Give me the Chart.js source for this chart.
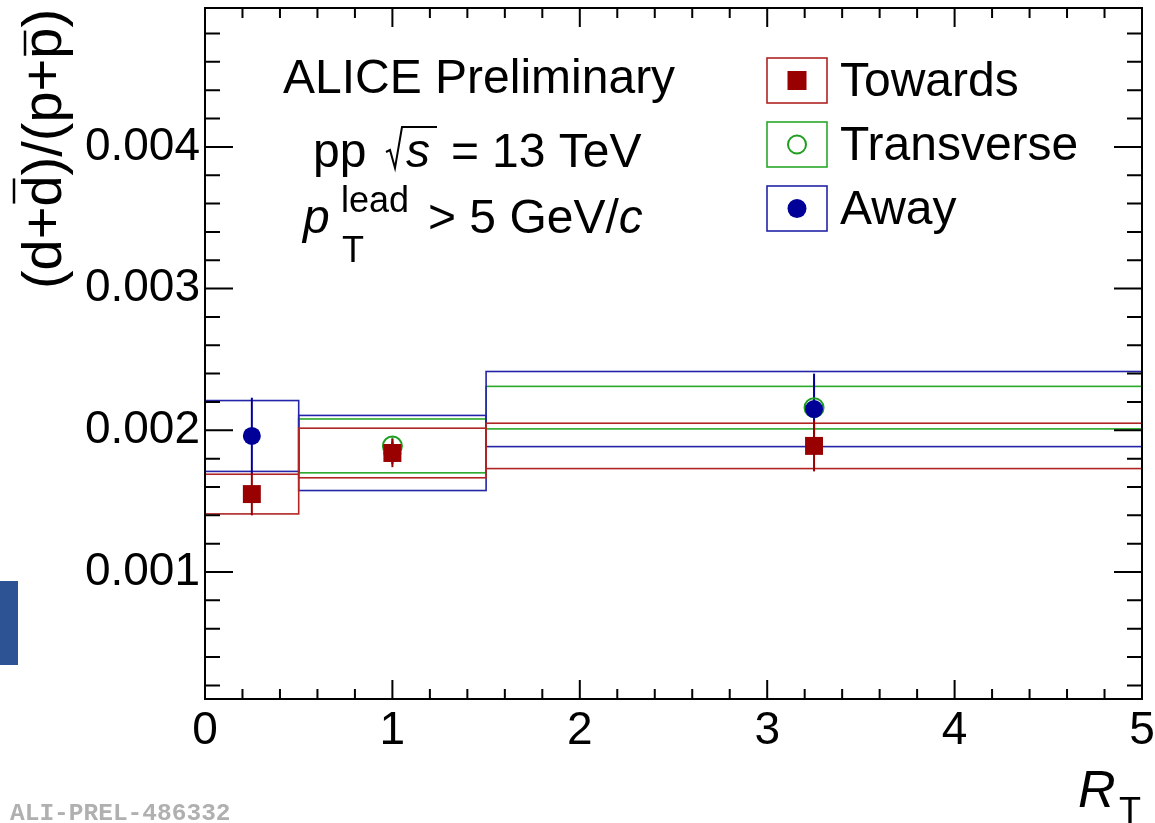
<!doctype html>
<html lang="en">
<head>
<meta charset="utf-8">
<title>(d+dbar)/(p+pbar) vs RT</title>
<style>
  body { margin: 0; background: #fff; }
</style>
</head>
<body>
<canvas id="ratioChart" width="1155" height="823"></canvas>
<script src="https://cdn.jsdelivr.net/npm/chart.js"></script>
<script>
// R_T bins
const binLow    = [0, 0.5, 1.5];
const binHigh   = [0.5, 1.5, 5];
const binCenter = [0.25, 1.0, 3.25];

// (d+dbar)/(p+pbar) per region, stat and sys (half-height of box) errors
const towards        = [0.00155, 0.00184, 0.00189];
const towardsStat    = [0.00015, 0.00010, 0.00018];
const towardsSys     = [0.00014, 0.000175, 0.00016];

const transverse     = [null, 0.00189, 0.00216];
const transverseStat = [null, 0.00006, 0.00019];
const transverseSys  = [null, 0.00019, 0.00015];

const away           = [0.00196, 0.00184, 0.00215];
const awayStat       = [0.00027, 0.00008, 0.00025];
const awaySys        = [0.00025, 0.000265, 0.000265];

const xTicks = [0, 1, 2, 3, 4, 5];
const yTicks = [0.001, 0.002, 0.003, 0.004];

const FONT = '"Liberation Sans", Arial, Helvetica, sans-serif';
const RED = '#990000', GREEN = '#1f9f1f', BLUE = '#000099';

// drawn bottom to top
const series = [
  { name: 'Transverse', y: transverse, stat: transverseStat, sys: transverseSys, color: GREEN, box: '#2aa82a' },
  { name: 'Away',       y: away,       stat: awayStat,       sys: awaySys,       color: BLUE,  box: '#2424a8' },
  { name: 'Towards',    y: towards,    stat: towardsStat,    sys: towardsSys,    color: RED,   box: '#b02424' }
];

function points(vals) {
  const out = [];
  vals.forEach((v, i) => { if (v !== null) out.push({ x: binCenter[i], y: v }); });
  return out;
}

const errorBoxes = {
  id: 'errorBoxes',
  beforeDatasetsDraw(chart) {
    const { ctx, scales: { x, y } } = chart;
    ctx.save();
    series.forEach(s => {
      s.y.forEach((v, i) => {
        if (v === null) return;
        const x0 = x.getPixelForValue(binLow[i]);
        const x1 = x.getPixelForValue(binHigh[i]);
        const yTop = y.getPixelForValue(v + s.sys[i]);
        const yBot = y.getPixelForValue(v - s.sys[i]);
        ctx.strokeStyle = s.box;
        ctx.lineWidth = 1.6;
        ctx.strokeRect(x0, yTop, x1 - x0, yBot - yTop);
        // statistical error bar
        const xc = x.getPixelForValue(binCenter[i]);
        ctx.strokeStyle = s.color;
        ctx.lineWidth = 2;
        ctx.beginPath();
        ctx.moveTo(xc, y.getPixelForValue(v + s.stat[i]));
        ctx.lineTo(xc, y.getPixelForValue(v - s.stat[i]));
        ctx.stroke();
      });
    });
    ctx.restore();
  },
  afterDatasetsDraw(chart) {
    const { ctx, chartArea: a, scales: { x, y } } = chart;
    ctx.save();
    ctx.strokeStyle = '#000';
    ctx.lineWidth = 2;
    ctx.strokeRect(a.left, a.top, a.right - a.left, a.bottom - a.top);
    ctx.beginPath();
    // x ticks, bottom and top, pointing inward
    for (let k = 0; k <= 25; k++) {
      const px = x.getPixelForValue(k * 0.2);
      const len = k % 5 === 0 ? 19 : 10;
      ctx.moveTo(px, a.bottom); ctx.lineTo(px, a.bottom - len);
      ctx.moveTo(px, a.top);    ctx.lineTo(px, a.top + len);
    }
    // y ticks, left and right
    for (let k = 1; k <= 24; k++) {
      const py = y.getPixelForValue(k * 0.0002);
      const len = k % 5 === 0 ? 28 : 15;
      ctx.moveTo(a.left, py);  ctx.lineTo(a.left + len, py);
      ctx.moveTo(a.right, py); ctx.lineTo(a.right - len, py);
    }
    ctx.stroke();
    ctx.restore();
  },
  afterDraw(chart) {
    const ctx = chart.ctx;
    ctx.save();
    ctx.fillStyle = '#000';
    ctx.textBaseline = 'alphabetic';
    ctx.textAlign = 'left';

    // header text
    ctx.font = '48px ' + FONT;
    ctx.fillText('ALICE Preliminary', 283, 93);

    ctx.fillText('pp', 313, 167);
    ctx.strokeStyle = '#000';
    ctx.lineWidth = 2;
    ctx.beginPath();
    ctx.moveTo(386, 152); ctx.lineTo(390, 150);
    ctx.lineTo(395, 168); ctx.lineTo(402, 127); ctx.lineTo(437, 127);
    ctx.stroke();
    ctx.font = 'italic 48px ' + FONT;
    ctx.fillText('s', 406, 167);
    ctx.font = '48px ' + FONT;
    ctx.fillText('=', 451, 167);
    ctx.fillText('13 TeV', 492, 167);

    ctx.font = 'italic 48px ' + FONT;
    ctx.fillText('p', 303, 233);
    ctx.font = '36px ' + FONT;
    ctx.fillText('lead', 341, 212);
    ctx.fillText('T', 342, 262);
    ctx.font = '48px ' + FONT;
    ctx.fillText('> 5 GeV/', 428, 233);
    const w = ctx.measureText('> 5 GeV/').width;
    ctx.font = 'italic 48px ' + FONT;
    ctx.fillText('c', 428 + w, 233);

    // legend
    const leg = [
      { name: 'Towards',    color: RED,   box: '#b02424', top: 58 },
      { name: 'Transverse', color: GREEN, box: '#2aa82a', top: 122 },
      { name: 'Away',       color: BLUE,  box: '#2424a8', top: 186 }
    ];
    leg.forEach((l, i) => {
      ctx.strokeStyle = l.box;
      ctx.lineWidth = 1.6;
      ctx.strokeRect(767, l.top, 60, 45);
      const cy = l.top + 22.5;
      if (i === 0) {
        ctx.fillStyle = l.color;
        ctx.fillRect(797 - 9.5, cy - 9.5, 19, 19);
      } else if (i === 1) {
        ctx.strokeStyle = l.color;
        ctx.lineWidth = 2;
        ctx.beginPath(); ctx.arc(797, cy, 9, 0, Math.PI * 2); ctx.stroke();
      } else {
        ctx.fillStyle = l.color;
        ctx.beginPath(); ctx.arc(797, cy, 9.5, 0, Math.PI * 2); ctx.fill();
      }
      ctx.fillStyle = '#000';
      ctx.font = '48px ' + FONT;
      ctx.fillText(l.name, 840, cy + 15);
    });

    // y axis title with bars
    ctx.save();
    ctx.translate(61, 149);
    ctx.rotate(-Math.PI / 2);
    ctx.font = '56px ' + FONT;
    const parts = [['(d+', 0], ['d', 1], [')/(p+', 0], ['p', 2], [')', 0]];
    let total = 0;
    parts.forEach(p => { total += ctx.measureText(p[0]).width; });
    let cx = -total / 2;
    ctx.fillStyle = '#000';
    ctx.strokeStyle = '#000';
    ctx.lineWidth = 2.5;
    parts.forEach(p => {
      const pw = ctx.measureText(p[0]).width;
      ctx.fillText(p[0], cx, 0);
      if (p[1]) {
        const by = p[1] === 1 ? -47 : -36;
        ctx.beginPath(); ctx.moveTo(cx + 3, by); ctx.lineTo(cx + pw - 3, by); ctx.stroke();
      }
      cx += pw;
    });
    ctx.restore();

    // x axis title
    ctx.fillStyle = '#000';
    ctx.font = 'italic 52px ' + FONT;
    ctx.fillText('R', 1078, 807);
    ctx.font = '36px ' + FONT;
    ctx.fillText('T', 1119, 823);

    // side marker and watermark
    ctx.fillStyle = '#2e5395';
    ctx.fillRect(0, 581, 18, 84);
    ctx.fillStyle = '#b0b0b0';
    ctx.font = 'bold 24.5px "Liberation Mono", "Courier New", monospace';
    ctx.fillText('ALI-PREL-486332', 10, 820);
    ctx.restore();
  }
};

function noPad(s) { s.paddingLeft = 0; s.paddingRight = 0; s.paddingTop = 0; s.paddingBottom = 0; }

new Chart(document.getElementById('ratioChart'), {
  type: 'scatter',
  data: {
    datasets: [
      { label: 'Towards', data: points(towards), pointStyle: 'rect', pointRadius: 12.7,
        backgroundColor: RED, borderColor: RED, borderWidth: 0, order: 0 },
      { label: 'Transverse', data: points(transverse), pointStyle: 'circle', pointRadius: 9.5,
        backgroundColor: 'rgba(0,0,0,0)', borderColor: GREEN, borderWidth: 2, order: 2 },
      { label: 'Away', data: points(away), pointStyle: 'circle', pointRadius: 9,
        backgroundColor: BLUE, borderColor: BLUE, borderWidth: 0, order: 1 }
    ]
  },
  options: {
    responsive: false,
    animation: false,
    events: [],
    layout: { autoPadding: false, padding: { left: 0, top: 8, right: 13, bottom: 0 } },
    plugins: { legend: { display: false }, tooltip: { enabled: false } },
    scales: {
      x: {
        type: 'linear', min: 0, max: 5,
        grid: { display: false, drawTicks: false },
        border: { display: false },
        afterBuildTicks: s => { s.ticks = xTicks.map(v => ({ value: v })); },
        ticks: { color: '#000', font: { family: FONT, size: 46 }, padding: 5, maxRotation: 0 },
        afterFit: s => { s.height = 124; noPad(s); }
      },
      y: {
        type: 'linear', min: 0.000104, max: 0.00498,
        grid: { display: false, drawTicks: false },
        border: { display: false },
        afterBuildTicks: s => { s.ticks = yTicks.map(v => ({ value: v })); },
        ticks: { color: '#000', font: { family: FONT, size: 46 }, padding: 5,
                 callback: v => v.toFixed(3) },
        afterFit: s => { s.width = 205; noPad(s); }
      }
    }
  },
  plugins: [errorBoxes]
});
</script>
</body>
</html>
